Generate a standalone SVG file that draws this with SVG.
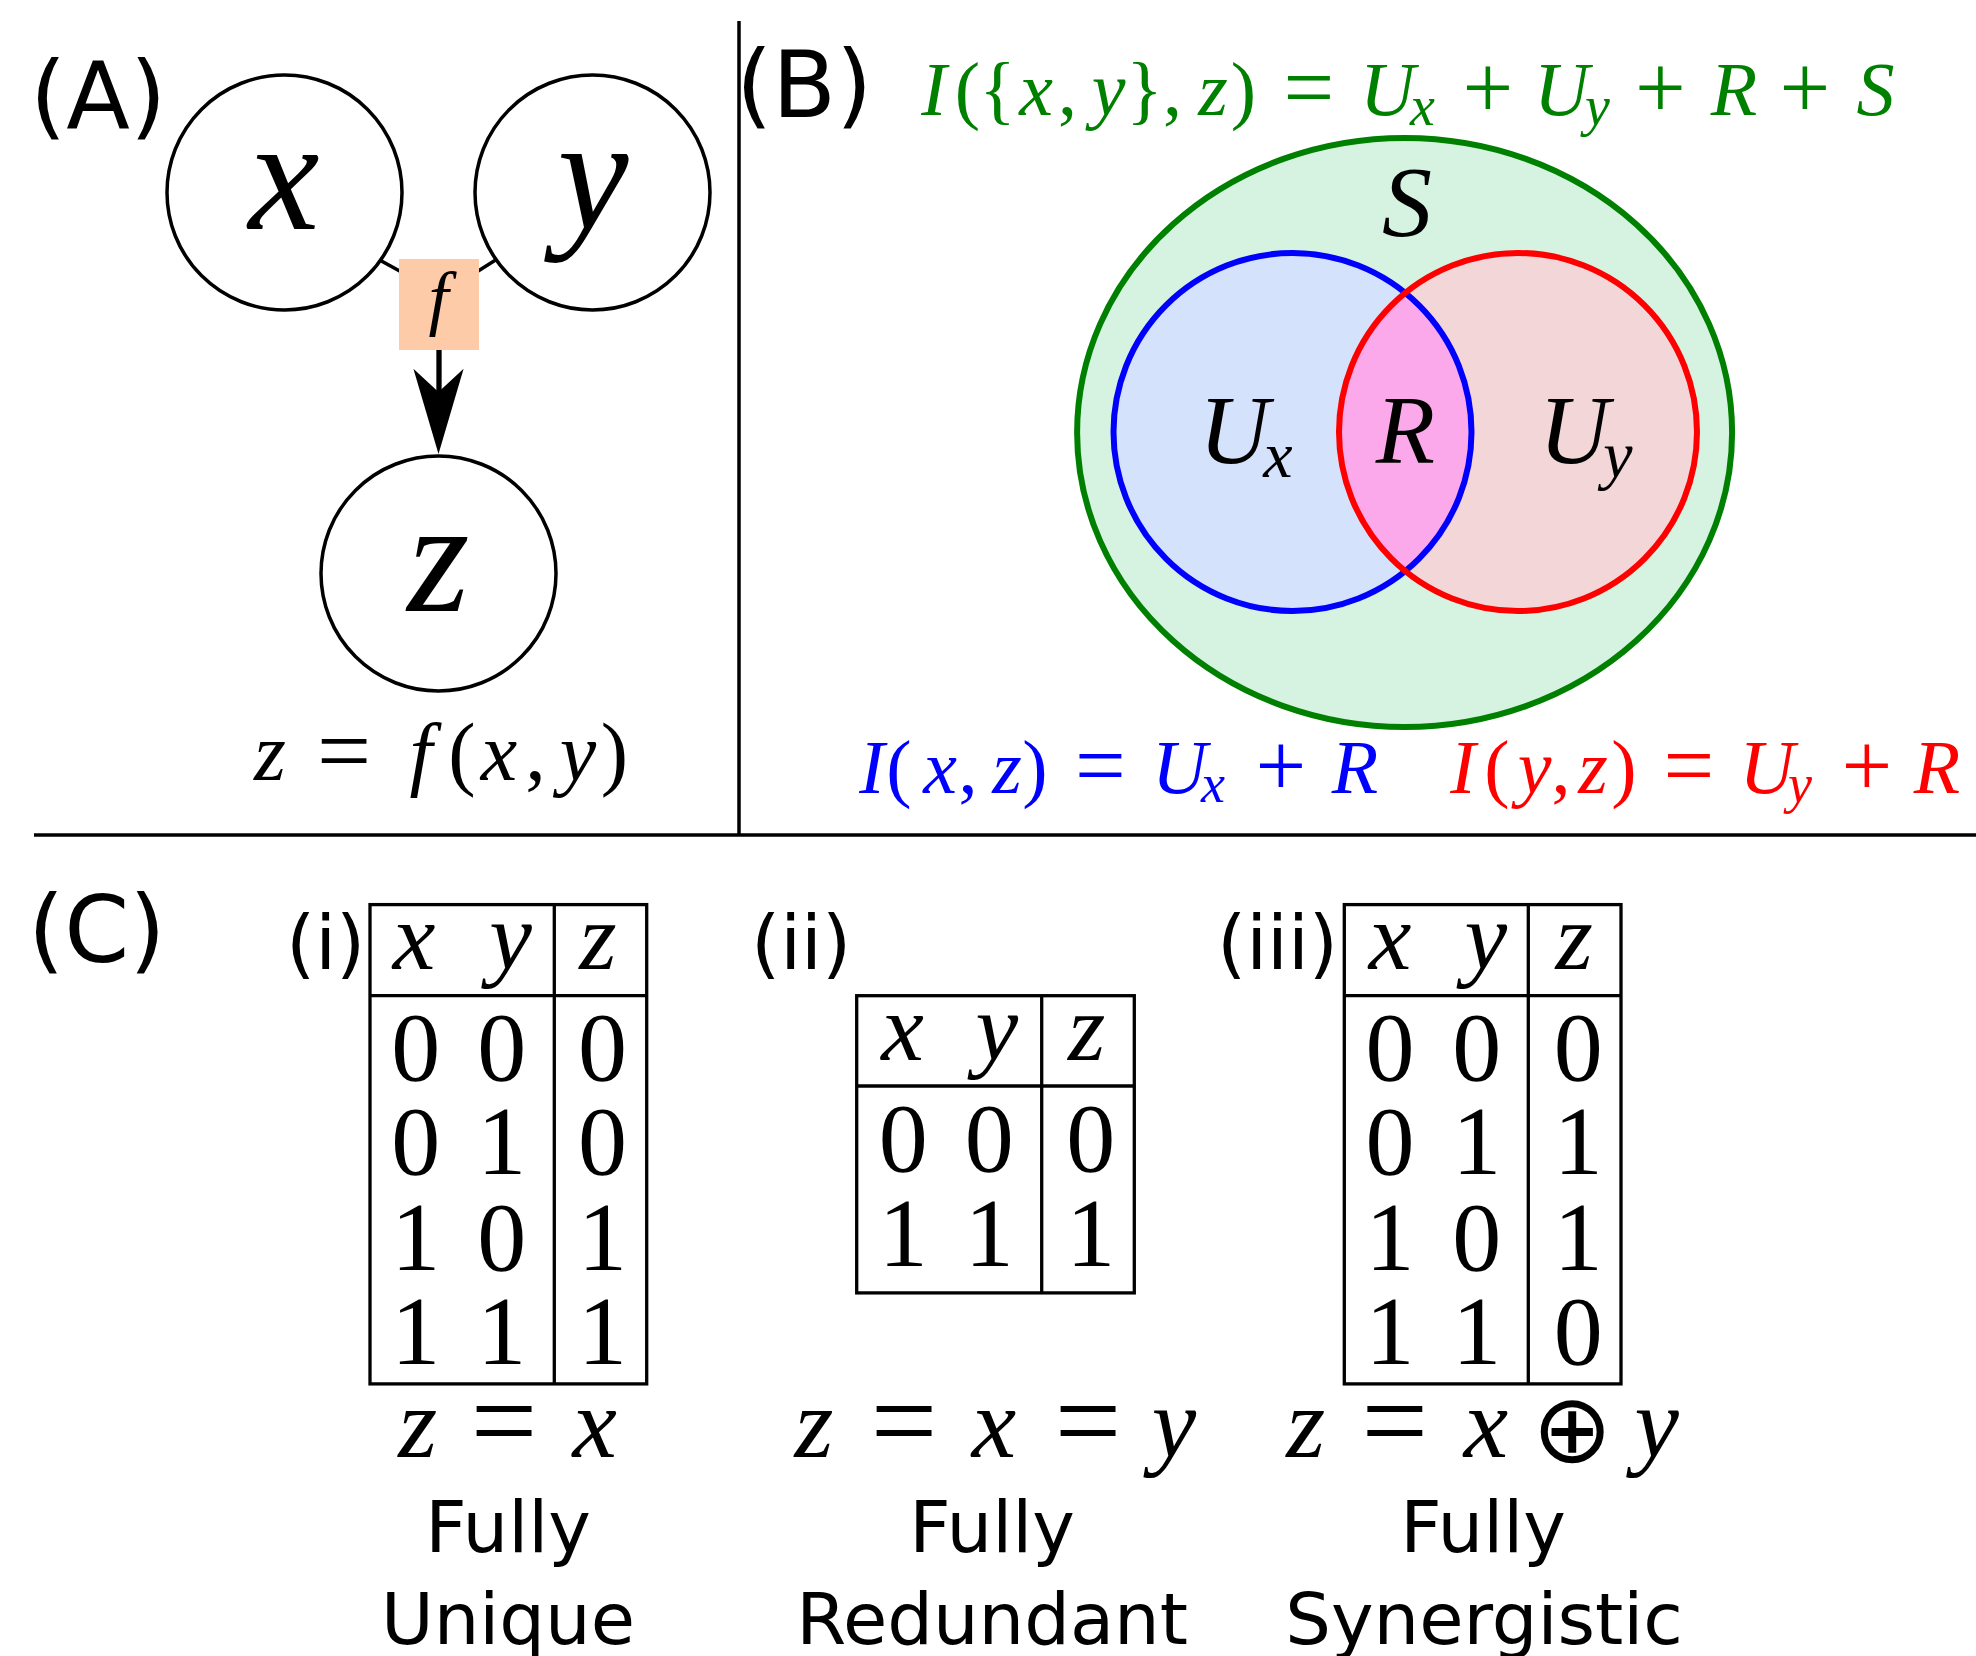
<svg xmlns="http://www.w3.org/2000/svg" width="1976" height="1656" viewBox="0 0 1976 1656">
<style>
.lab{font-family:"DejaVu Sans",sans-serif;fill:#000}
.m{font-family:"Liberation Serif","Times New Roman",serif;font-style:italic}
.r{font-family:"Liberation Serif","Times New Roman",serif;font-style:normal}
.c{text-anchor:middle}
.node{fill:#fff;stroke:#000;stroke-width:3.5}
.tb{fill:none;stroke:#000;stroke-width:3.3}
.conn{stroke:#000;stroke-width:3.5;fill:none}
</style>
<defs>
<clipPath id="clipBlue"><circle cx="1292.5" cy="432" r="179"/></clipPath>
</defs>
<rect width="1976" height="1656" fill="#fff"/>

<!-- dividers -->
<g id="dividers" stroke="#000" stroke-width="3.5">
<line x1="739" y1="21" x2="739" y2="835"/>
<line x1="34" y1="835" x2="1976" y2="835"/>
</g>

<!-- Panel A -->
<text class="lab" x="30" y="128" font-size="93">(A)</text>
<g id="connectors">
<line class="conn" x1="340" y1="238.2" x2="420" y2="282.2"/>
<line class="conn" x1="540" y1="232" x2="460" y2="282.4"/>
<line x1="439" y1="349" x2="439" y2="395" stroke="#000" stroke-width="5.3"/>
<polygon points="438.5,454 413.4,368.7 438.5,392 463.6,368.7" fill="#000"/>
</g>
<g id="node-x">
<circle class="node" cx="284.5" cy="192.5" r="117.5"/>
<text class="m c" x="284" y="229" font-size="160">x</text>
</g>
<g id="node-y">
<circle class="node" cx="592.5" cy="192.5" r="117.5"/>
<text class="m c" x="593" y="229" font-size="160">y</text>
</g>
<g id="node-f">
<rect x="399" y="259" width="80" height="91" fill="#fdcba7"/>
<text class="m c" x="438.5" y="322" font-size="72">f</text>
</g>
<g id="node-z">
<circle class="node" cx="438.5" cy="573.5" r="117.5"/>
<text class="m c" x="438.5" y="611" font-size="160">z</text>
</g>
<text class="m c" font-size="82"><tspan x="270" y="780">z</tspan><tspan class="r" x="344" y="783" font-size="96">=</tspan><tspan x="421" y="780">f</tspan><tspan class="r" x="462" y="780">(</tspan><tspan x="499" y="780">x</tspan><tspan class="r" x="535.5" y="780">,</tspan><tspan x="578" y="780">y</tspan><tspan class="r" x="614.5" y="780">)</tspan></text>

<!-- Panel B -->
<text class="lab" x="736" y="117" font-size="93">(B)</text>
<text class="m c" font-size="76" fill="#008000"><tspan x="934" y="115">I</tspan><tspan class="r" x="967.5" y="115">(</tspan><tspan class="r" x="997.5" y="115">{</tspan><tspan x="1036" y="115">x</tspan><tspan class="r" x="1067.5" y="115">,</tspan><tspan x="1108.5" y="115">y</tspan><tspan class="r" x="1144.5" y="115">}</tspan><tspan class="r" x="1172.5" y="115">,</tspan><tspan x="1213" y="115">z</tspan><tspan class="r" x="1243.5" y="115">)</tspan><tspan class="r" x="1309" y="118" font-size="90">=</tspan><tspan x="1387.5" y="115">U</tspan><tspan x="1422.5" y="125" font-size="56">x</tspan><tspan class="r" x="1488" y="118" font-size="90">+</tspan><tspan x="1561.5" y="115">U</tspan><tspan x="1597.5" y="125" font-size="56">y</tspan><tspan class="r" x="1660.5" y="118" font-size="90">+</tspan><tspan x="1734" y="115">R</tspan><tspan class="r" x="1805" y="118" font-size="90">+</tspan><tspan x="1875.5" y="115">S</tspan></text>

<g id="venn">
<ellipse id="set-S" cx="1404.6" cy="432.5" rx="327.5" ry="294.5" fill="#d6f3e1" stroke="#008000" stroke-width="6"/>
<circle cx="1292.5" cy="432" r="179" fill="#d4e3fb"/>
<circle cx="1518" cy="432" r="179" fill="#f3d6d8"/>
<circle cx="1518" cy="432" r="179" fill="#fca9ec" clip-path="url(#clipBlue)"/>
<circle id="set-Ux" cx="1292.5" cy="432" r="179" fill="none" stroke="#0000ff" stroke-width="6"/>
<circle id="set-Uy" cx="1518" cy="432" r="179" fill="none" stroke="#ff0000" stroke-width="6"/>
<text class="m c" x="1407" y="235" font-size="100">S</text>
<text class="m c" font-size="97"><tspan x="1234" y="463">U</tspan><tspan x="1278" y="477" font-size="66">x</tspan></text>
<text class="m c" x="1405.5" y="463" font-size="97">R</text>
<text class="m c" font-size="97"><tspan x="1574" y="463">U</tspan><tspan x="1618" y="477" font-size="66">y</tspan></text>
</g>

<text class="m c" font-size="76" fill="#0000ff"><tspan x="872" y="792.7">I</tspan><tspan class="r" x="899" y="792.7">(</tspan><tspan x="940" y="792.7">x</tspan><tspan class="r" x="968" y="792.7">,</tspan><tspan x="1007" y="792.7">z</tspan><tspan class="r" x="1035" y="792.7">)</tspan><tspan class="r" x="1100.5" y="795.7" font-size="90">=</tspan><tspan x="1179.5" y="792.7">U</tspan><tspan x="1213" y="801.7" font-size="54">x</tspan><tspan class="r" x="1281" y="795.7" font-size="90">+</tspan><tspan x="1355" y="792.7">R</tspan></text>
<text class="m c" font-size="76" fill="#ff0000"><tspan x="1463" y="792.7">I</tspan><tspan class="r" x="1497" y="792.7">(</tspan><tspan x="1534.5" y="792.7">y</tspan><tspan class="r" x="1561" y="792.7">,</tspan><tspan x="1593" y="792.7">z</tspan><tspan class="r" x="1624" y="792.7">)</tspan><tspan class="r" x="1689" y="795.7" font-size="90">=</tspan><tspan x="1767" y="792.7">U</tspan><tspan x="1800" y="801.7" font-size="54">y</tspan><tspan class="r" x="1867" y="795.7" font-size="90">+</tspan><tspan x="1937" y="792.7">R</tspan></text>

<!-- Panel C -->
<text class="lab" x="28" y="962" font-size="93">(C)</text>

<g id="table-i">
<text class="lab" x="286" y="969" font-size="75">(i)</text>
<rect class="tb" x="370" y="904.6" width="276.7" height="479.3"/>
<line class="tb" x1="370" y1="995.7" x2="646.7" y2="995.7"/>
<line class="tb" x1="554.3" y1="904.6" x2="554.3" y2="1383.9"/>
<text class="m c" font-size="96" y="969"><tspan x="414">x</tspan><tspan x="510.5">y</tspan><tspan x="598">z</tspan></text>
<text class="r c" font-size="98" y="1079.6"><tspan x="415.8">0</tspan><tspan x="501.7">0</tspan><tspan x="602.5">0</tspan></text>
<text class="r c" font-size="98" y="1174.3"><tspan x="415.8">0</tspan><tspan x="501.7">1</tspan><tspan x="602.5">0</tspan></text>
<text class="r c" font-size="98" y="1270"><tspan x="415.8">1</tspan><tspan x="501.7">0</tspan><tspan x="602.5">1</tspan></text>
<text class="r c" font-size="98" y="1364.3"><tspan x="415.8">1</tspan><tspan x="501.7">1</tspan><tspan x="602.5">1</tspan></text>
<text class="m c" font-size="100"><tspan x="417.7" y="1457">z</tspan><tspan class="r" x="504" y="1461" font-size="118">=</tspan><tspan x="594.7" y="1457">x</tspan></text>
<text class="lab c" x="508" y="1552" font-size="72">Fully</text>
<text class="lab c" x="508" y="1644" font-size="72">Unique</text>
</g>

<g id="table-ii">
<text class="lab" x="751" y="969" font-size="75">(ii)</text>
<rect class="tb" x="856.7" y="995.7" width="277.6" height="297.2"/>
<line class="tb" x1="856.7" y1="1086" x2="1134.3" y2="1086"/>
<line class="tb" x1="1041.7" y1="995.7" x2="1041.7" y2="1292.9"/>
<text class="m c" font-size="96" y="1060"><tspan x="902.5">x</tspan><tspan x="996.7">y</tspan><tspan x="1086.7">z</tspan></text>
<text class="r c" font-size="98" y="1170.7"><tspan x="903.3">0</tspan><tspan x="989.2">0</tspan><tspan x="1090.8">0</tspan></text>
<text class="r c" font-size="98" y="1266.4"><tspan x="903.3">1</tspan><tspan x="989.2">1</tspan><tspan x="1090.8">1</tspan></text>
<text class="m c" font-size="100"><tspan x="814" y="1457">z</tspan><tspan class="r" x="904" y="1461" font-size="118">=</tspan><tspan x="994" y="1457">x</tspan><tspan class="r" x="1088" y="1461" font-size="118">=</tspan><tspan x="1174" y="1457">y</tspan></text>
<text class="lab c" x="992" y="1552" font-size="72">Fully</text>
<text class="lab c" x="992" y="1644" font-size="72">Redundant</text>
</g>

<g id="table-iii">
<text class="lab" x="1217" y="969" font-size="75">(iii)</text>
<rect class="tb" x="1344.3" y="904.6" width="276.7" height="479.3"/>
<line class="tb" x1="1344.3" y1="995.7" x2="1621" y2="995.7"/>
<line class="tb" x1="1528.3" y1="904.6" x2="1528.3" y2="1383.9"/>
<text class="m c" font-size="96" y="969"><tspan x="1390">x</tspan><tspan x="1485.8">y</tspan><tspan x="1574.2">z</tspan></text>
<text class="r c" font-size="98" y="1079.6"><tspan x="1390">0</tspan><tspan x="1476.7">0</tspan><tspan x="1578.3">0</tspan></text>
<text class="r c" font-size="98" y="1174.3"><tspan x="1390">0</tspan><tspan x="1476.7">1</tspan><tspan x="1578.3">1</tspan></text>
<text class="r c" font-size="98" y="1270"><tspan x="1390">1</tspan><tspan x="1476.7">0</tspan><tspan x="1578.3">1</tspan></text>
<text class="r c" font-size="98" y="1364.3"><tspan x="1390">1</tspan><tspan x="1476.7">1</tspan><tspan x="1578.3">0</tspan></text>
<text class="m c" font-size="100"><tspan x="1305.7" y="1457">z</tspan><tspan class="r" x="1394.7" y="1461" font-size="118">=</tspan><tspan x="1486" y="1457">x</tspan><tspan x="1572" y="1462" style="font-family:'DejaVu Sans',sans-serif;font-style:normal;font-weight:200" font-size="96">⊕</tspan><tspan x="1656.7" y="1457">y</tspan></text>
<text class="lab c" x="1483" y="1552" font-size="72">Fully</text>
<text class="lab c" x="1484" y="1644" font-size="72">Synergistic</text>
</g>
</svg>
